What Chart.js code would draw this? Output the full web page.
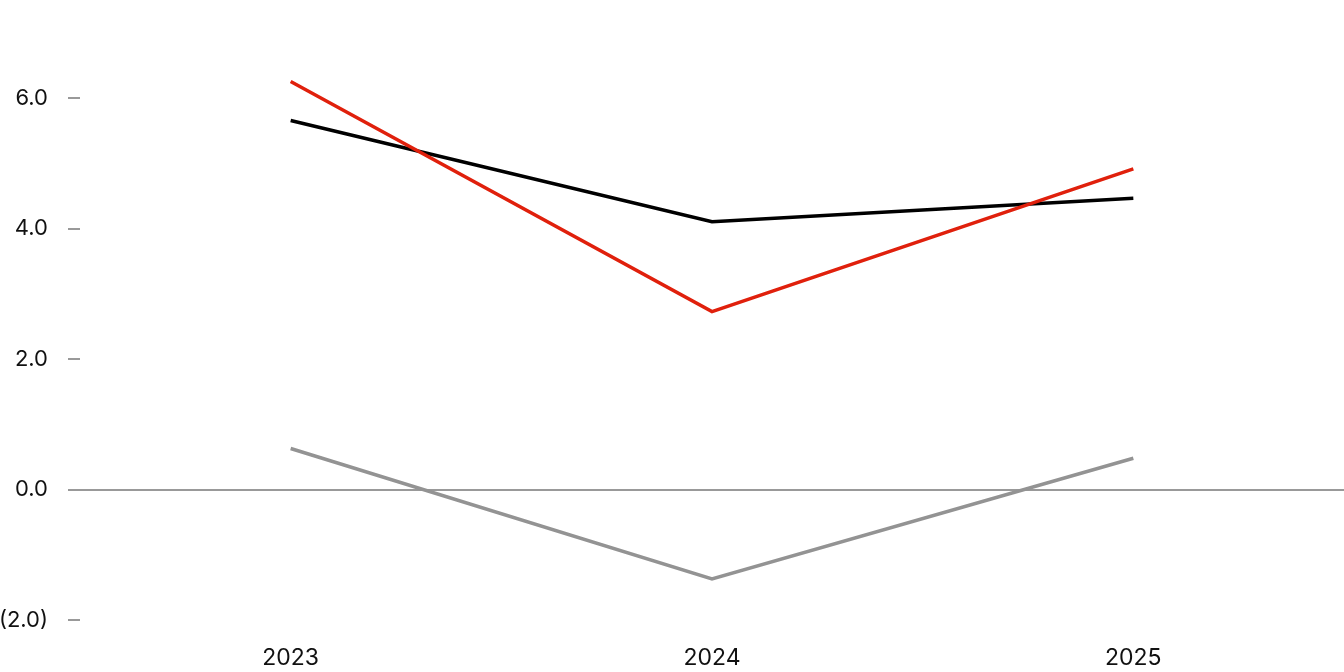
<!DOCTYPE html>
<html>
<head>
<meta charset="utf-8">
<script src="https://cdn.jsdelivr.net/npm/chart.js@4/dist/chart.umd.min.js"></script>
<style>
	html, body { margin: 0; padding: 0; background: #fff; }
	#wrap { width: 1344px; height: 672px; }
</style>
</head>
<body>
<div id="wrap"><canvas id="myChart"></canvas></div>
<script>
// values for the chart
const years = ['2023', '2024', '2025'];
const redValues = [6.26, 2.73, 4.92];
const blackValues = [5.66, 4.11, 4.47];
const greyValues = [0.63, -1.37, 0.48];
const yTicks = [-2, 0, 2, 4, 6];

const fontFamily = 'Inter, "Noto Sans", sans-serif';
const axisGrey = '#999999';

function fmt(v) {
	if (v < 0) return '(' + Math.abs(v).toFixed(1) + ')';
	return v.toFixed(1);
}

const chartData = {
	labels: years,
	datasets: [
		{ label: 'Red', data: redValues, borderColor: '#e0200c', borderWidth: 3.5 },
		{ label: 'Black', data: blackValues, borderColor: '#000000', borderWidth: 3.5 },
		{ label: 'Grey', data: greyValues, borderColor: '#939393', borderWidth: 3.5 }
	]
};

const config = {
	type: 'line',
	data: chartData,
	options: {
		responsive: true,
		maintainAspectRatio: false,
		animation: false,
		layout: { padding: 0 },
		elements: {
			point: { radius: 0 },
			line: { tension: 0 }
		},
		plugins: {
			legend: { display: false },
			tooltip: { enabled: false }
		},
		scales: {
			x: {
				offset: true,
				grid: { display: false },
				border: { display: false },
				ticks: {
					color: '#111',
					padding: 16,
					font: { family: fontFamily, size: 23 }
				},
				afterFit: scale => { scale.height = 52; }
			},
			y: {
				min: -2,
				max: 7,
				afterBuildTicks: scale => {
					scale.ticks = yTicks.map(v => ({ value: v }));
				},
				afterFit: scale => { scale.width = 80; },
				border: { display: false },
				grid: {
					drawTicks: true,
					tickLength: 12,
					tickWidth: 2,
					tickColor: axisGrey,
					lineWidth: 2,
					color: ctx => (ctx.tick && ctx.tick.value === 0) ? axisGrey : 'rgba(0,0,0,0)'
				},
				ticks: {
					color: '#111',
					padding: 20,
					font: { family: fontFamily, size: 22 },
					callback: v => fmt(v)
				}
			}
		}
	}
};

// Create the chart
var myChart = new Chart(document.getElementById('myChart'), config);
</script>
</body>
</html>
